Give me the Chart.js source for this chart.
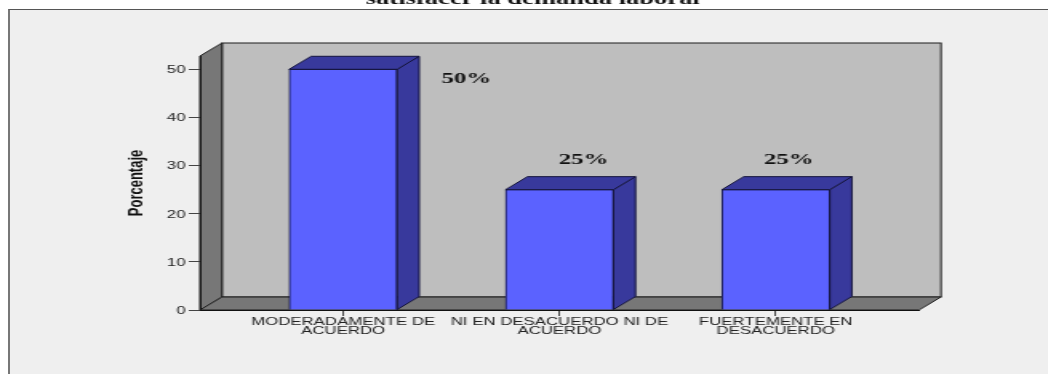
<!DOCTYPE html>
<html>
<head>
<meta charset="utf-8">
<script src="https://cdn.jsdelivr.net/npm/chart.js@4"></script>
<style>
html,body{margin:0;padding:0;background:#fff;overflow:hidden;width:1048px;height:374px}
#panel{position:absolute;left:8px;top:9px;right:0;bottom:0;background:#efefef;border-left:2px solid #777;border-top:1px solid #555}
#wrap{position:absolute;left:0;top:0;width:655px;height:374px;transform:scale(1.6,1);transform-origin:0 0}
</style>
</head>
<body>
<div id="panel"></div>
<div id="wrap"><canvas id="c" width="655" height="374"></canvas></div>
<script>
const titleText = "satisfacer la demanda laboral";
const yAxisTitle = "Porcentaje";
const categories = ["MODERADAMENTE DE ACUERDO", "NI EN DESACUERDO NI DE ACUERDO", "FUERTEMENTE EN DESACUERDO"];
const categoryLines = [["MODERADAMENTE DE", "ACUERDO"], ["NI EN DESACUERDO NI DE", "ACUERDO"], ["FUERTEMENTE EN", "DESACUERDO"]];
const values = [50, 25, 25];
const yTicks = [0, 10, 20, 30, 40, 50];

const DX = 13.75, DY = 13;
const labelOffsets = [[77, 10], [15, -30], [8, -30]];

const depth = {
  id: 'depth',
  beforeDraw(chart) {
    const {ctx, chartArea: a} = chart;
    ctx.save();
    ctx.lineJoin = 'miter';
    ctx.strokeStyle = '#1c1c1c';
    ctx.lineWidth = 1;
    ctx.fillStyle = '#bebebe';
    ctx.fillRect(a.left + DX, a.top - DY, a.right - a.left, a.bottom - a.top);
    ctx.strokeRect(a.left + DX, a.top - DY, a.right - a.left, a.bottom - a.top);
    ctx.fillStyle = '#777777';
    ctx.beginPath();
    ctx.moveTo(a.left, a.top); ctx.lineTo(a.left + DX, a.top - DY);
    ctx.lineTo(a.left + DX, a.bottom - DY); ctx.lineTo(a.left, a.bottom);
    ctx.closePath(); ctx.fill(); ctx.stroke();
    ctx.beginPath();
    ctx.moveTo(a.left, a.bottom); ctx.lineTo(a.left + DX, a.bottom - DY);
    ctx.lineTo(a.right + DX, a.bottom - DY); ctx.lineTo(a.right, a.bottom);
    ctx.closePath(); ctx.fill(); ctx.stroke();
    ctx.restore();
  },
  afterDatasetsDraw(chart) {
    const {ctx} = chart;
    const meta = chart.getDatasetMeta(0);
    ctx.save();
    ctx.strokeStyle = '#14143c';
    ctx.lineWidth = 1;
    ctx.fillStyle = '#38399c';
    meta.data.forEach((bar, i) => {
      const l = bar.x - bar.width / 2, r = bar.x + bar.width / 2, t = bar.y, b = bar.base;
      ctx.beginPath();
      ctx.moveTo(r, t); ctx.lineTo(r + DX, t - DY); ctx.lineTo(r + DX, b - DY); ctx.lineTo(r, b);
      ctx.closePath(); ctx.fill(); ctx.stroke();
      ctx.beginPath();
      ctx.moveTo(l, t); ctx.lineTo(l + DX, t - DY); ctx.lineTo(r + DX, t - DY); ctx.lineTo(r, t);
      ctx.closePath(); ctx.fill(); ctx.stroke();
      ctx.fillStyle = '#111';
      ctx.font = 'bold 15.5px "Liberation Serif"';
      ctx.textAlign = 'center';
      ctx.textBaseline = 'middle';
      ctx.fillText(values[i] + '%', bar.x + labelOffsets[i][0], t + labelOffsets[i][1]);
      ctx.fillStyle = '#38399c';
    });
    ctx.fillStyle = '#111';
    ctx.font = 'bold 16.6px "Liberation Serif"';
    ctx.textAlign = 'center';
    ctx.textBaseline = 'alphabetic';
    ctx.fillText(titleText, 333, 4);
    ctx.restore();
  }
};

new Chart(document.getElementById('c'), {
  type: 'bar',
  data: {
    labels: categories,
    datasets: [{
      data: values.map((v, i) => ({x: i, y: v})),
      backgroundColor: '#5b62ff',
      borderColor: '#14143c',
      borderWidth: 1,
      barThickness: 67.5
    }]
  },
  plugins: [depth],
  options: {
    responsive: false,
    animation: false,
    devicePixelRatio: 1,
    layout: {padding: {left: 0, top: 56, right: 80.6, bottom: 0}},
    plugins: {legend: {display: false}, title: {display: false}, tooltip: {enabled: false}},
    scales: {
      x: {
        type: 'linear',
        offset: false,
        min: -0.662,
        max: 2.662,
        afterBuildTicks: s => { s.ticks = categories.map((_, i) => ({value: i})); },
        afterFit: s => { s.height = 64; },
        grid: {offset: false, drawOnChartArea: false, drawTicks: true, tickLength: 6, color: '#444'},
        border: {color: '#111', width: 1},
        ticks: {
          autoSkip: false, maxRotation: 0, minRotation: 0, padding: 1,
          color: '#222',
          font: {family: '"Liberation Sans"', size: 10.5, lineHeight: 0.9},
          callback: v => categoryLines[v]
        }
      },
      y: {
        min: 0,
        max: 52.76,
        afterBuildTicks: s => { s.ticks = yTicks.map(v => ({value: v})); },
        afterFit: s => { s.width = 125; },
        grid: {drawOnChartArea: false, drawTicks: true, tickLength: 7, color: '#444'},
        border: {color: '#111', width: 1},
        ticks: {padding: 2, labelOffset: 1, color: '#222', font: {family: '"Liberation Sans"', size: 10.5}},
        title: {
          display: true, text: yAxisTitle, color: '#111',
          font: {family: '"Liberation Sans"', size: 13, weight: 'bold'},
          padding: {top: 78, bottom: 0}
        }
      }
    }
  }
});
</script>
</body>
</html>
